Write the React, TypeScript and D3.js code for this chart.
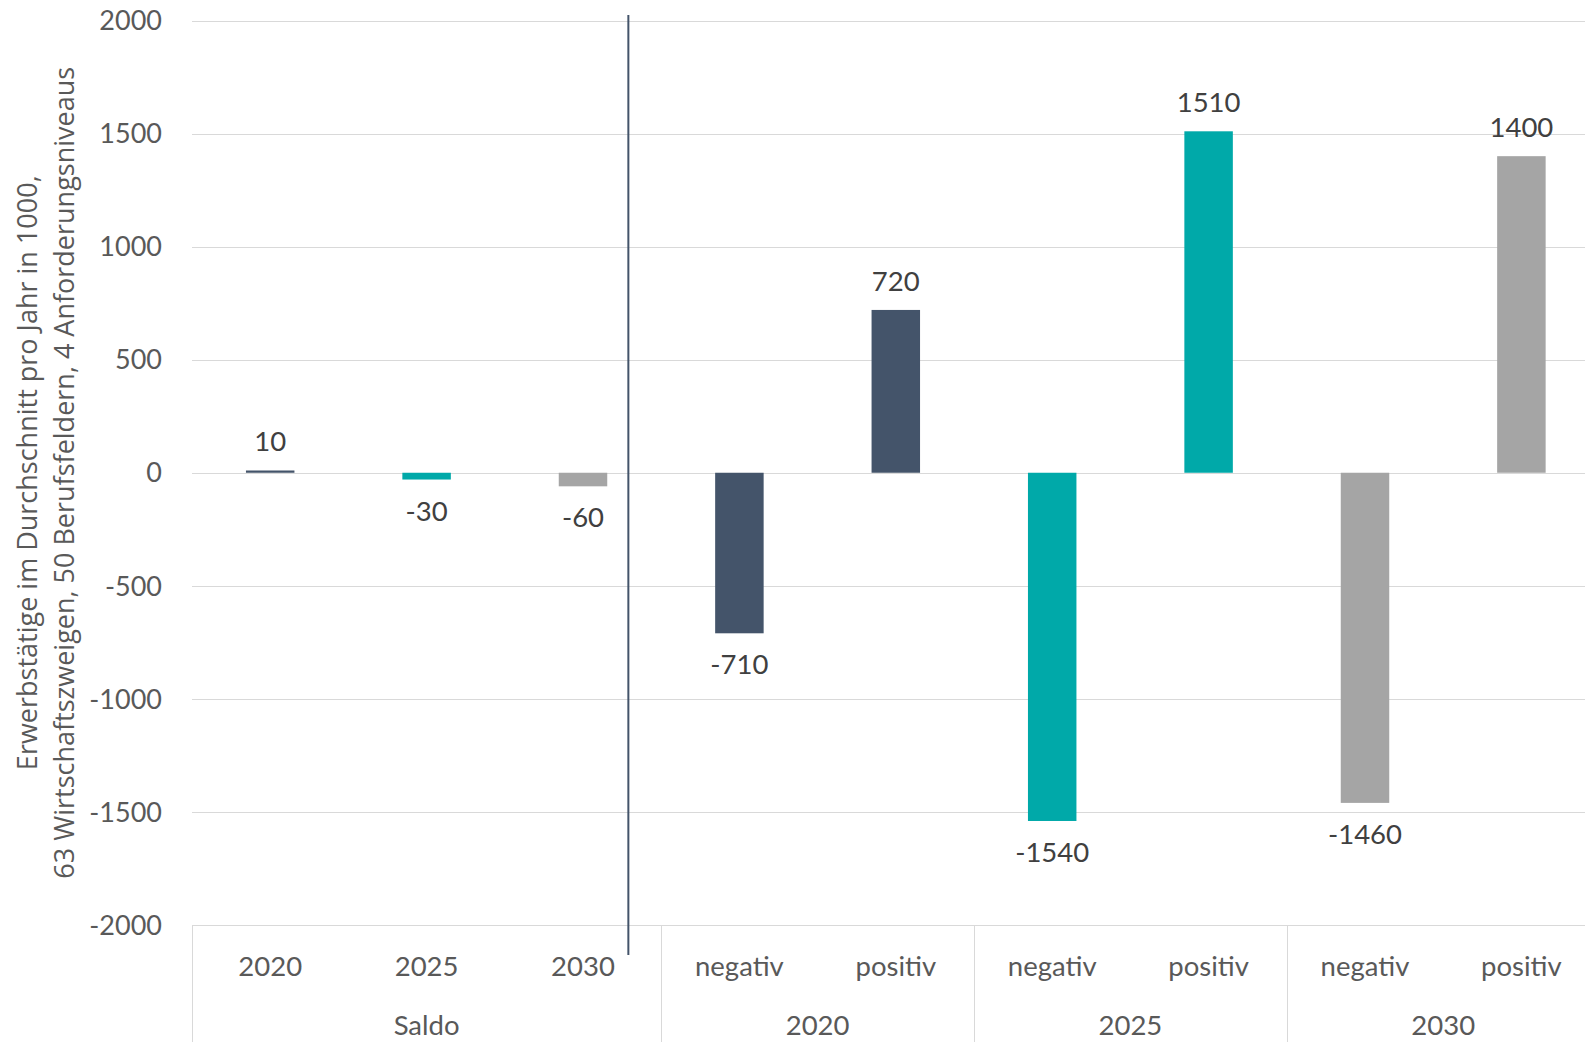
import { useRef, useEffect } from "react";
import * as d3 from "d3";

// categories on the x axis (inner level) and their group (outer level)
const categories = ["s2020", "s2025", "s2030", "n2020", "p2020", "n2025", "p2025", "n2030", "p2030"];
const innerLabels = ["2020", "2025", "2030", "negativ", "positiv", "negativ", "positiv", "negativ", "positiv"];
const groups = ["Saldo", "2020", "2025", "2030"];
const groupSpans = [3, 2, 2, 2];
const values = [10, -30, -60, -710, 720, -1540, 1510, -1460, 1400];
const barColors = ["#44546A", "#00A9A9", "#A5A5A5", "#44546A", "#44546A", "#00A9A9", "#00A9A9", "#A5A5A5", "#A5A5A5"];
const yTicks = [-2000, -1500, -1000, -500, 0, 500, 1000, 1500, 2000];
const yTitle = [
  "Erwerbstätige im Durchschnitt pro Jahr in 1000,",
  "63 Wirtschaftszweigen, 50 Berufsfeldern, 4 Anforderungsniveaus",
];

const width = 1585;
const height = 1042;

export default function App() {
  const ref = useRef<SVGSVGElement>(null);

  useEffect(() => {
    if (!ref.current) return;
    const svg = d3.select(ref.current);
    svg.selectAll("*").remove();

    const font = "Lato, 'Open Sans', sans-serif";
    const textColor = "#595959";

    const left = 192;
    const band = 156.4;
    const x = d3
      .scaleBand<string>()
      .domain(categories)
      .range([left, left + band * categories.length])
      .padding(0);
    const y = d3.scaleLinear().domain([-2000, 2000]).range([925, 20.5]);

    // gridlines
    svg
      .append("g")
      .selectAll("line")
      .data(yTicks)
      .join("line")
      .attr("x1", left)
      .attr("x2", width)
      .attr("y1", (d) => Math.round(y(d)) + 0.5)
      .attr("y2", (d) => Math.round(y(d)) + 0.5)
      .attr("stroke", "#D9D9D9")
      .attr("stroke-width", 1);

    // y tick labels
    svg
      .append("g")
      .selectAll("text")
      .data(yTicks)
      .join("text")
      .attr("x", 162)
      .attr("y", (d) => y(d))
      .attr("dy", "0.36em")
      .attr("text-anchor", "end")
      .attr("font-family", font)
      .attr("font-size", 27)
      .attr("fill", textColor)
      .text((d) => d);

    // bars
    const bw = x.bandwidth() * 0.31;
    svg
      .append("g")
      .selectAll("rect")
      .data(values)
      .join("rect")
      .attr("x", (_, i) => (x(categories[i]) as number) + (x.bandwidth() - bw) / 2)
      .attr("y", (d) => y(Math.max(0, d)))
      .attr("width", bw)
      .attr("height", (d) => Math.abs(y(d) - y(0)))
      .attr("fill", (_, i) => barColors[i]);

    // data labels
    svg
      .append("g")
      .selectAll("text")
      .data(values)
      .join("text")
      .attr("x", (_, i) => (x(categories[i]) as number) + x.bandwidth() / 2)
      .attr("y", (d) => (d >= 0 ? y(d) - 19 : y(d) + 41))
      .attr("text-anchor", "middle")
      .attr("font-family", font)
      .attr("font-size", 27.5)
      .attr("fill", "#404040")
      .text((d) => d);

    // category axis: separators
    const axisTop = Math.round(y(-2000)) + 0.5;
    const starts = [0, 3, 5, 7];
    svg
      .append("g")
      .selectAll("line")
      .data(starts)
      .join("line")
      .attr("x1", (d) => Math.round(x(categories[d]) as number) + 0.5)
      .attr("x2", (d) => Math.round(x(categories[d]) as number) + 0.5)
      .attr("y1", axisTop)
      .attr("y2", height)
      .attr("stroke", "#D9D9D9");

    // inner category labels
    svg
      .append("g")
      .selectAll("text")
      .data(innerLabels)
      .join("text")
      .attr("x", (_, i) => (x(categories[i]) as number) + x.bandwidth() / 2)
      .attr("y", 976)
      .attr("text-anchor", "middle")
      .attr("font-family", font)
      .attr("font-size", 27.5)
      .attr("fill", textColor)
      .text((d) => d);

    // group labels
    svg
      .append("g")
      .selectAll("text")
      .data(groups)
      .join("text")
      .attr("x", (_, i) => {
        const s = x(categories[starts[i]]) as number;
        return s + (groupSpans[i] * x.bandwidth()) / 2;
      })
      .attr("y", 1035)
      .attr("text-anchor", "middle")
      .attr("font-family", font)
      .attr("font-size", 27.5)
      .attr("fill", textColor)
      .text((d) => d);

    // divider line between Saldo and the yearly values
    const divX = (x("s2030") as number) + x.bandwidth() * 0.79;
    svg
      .append("line")
      .attr("x1", divX)
      .attr("x2", divX)
      .attr("y1", 15)
      .attr("y2", 955)
      .attr("stroke", "#44546A")
      .attr("stroke-width", 2);

    // y axis title
    const cy = (y(2000) + y(-2000)) / 2;
    svg
      .append("text")
      .attr("transform", `translate(0, ${cy}) rotate(-90)`)
      .attr("text-anchor", "middle")
      .attr("font-family", "'Open Sans', sans-serif")
      .attr("font-size", 27)
      .attr("fill", textColor)
      .selectAll("tspan")
      .data(yTitle)
      .join("tspan")
      .attr("x", 0)
      .attr("y", (_, i) => 37 + i * 37)
      .text((d) => d);
  }, []);

  return (
    <div style={{ position: "absolute", left: 0, top: 0 }}>
      <svg ref={ref} width={width} height={height} style={{ display: "block", background: "#fff" }} />
    </div>
  );
}
